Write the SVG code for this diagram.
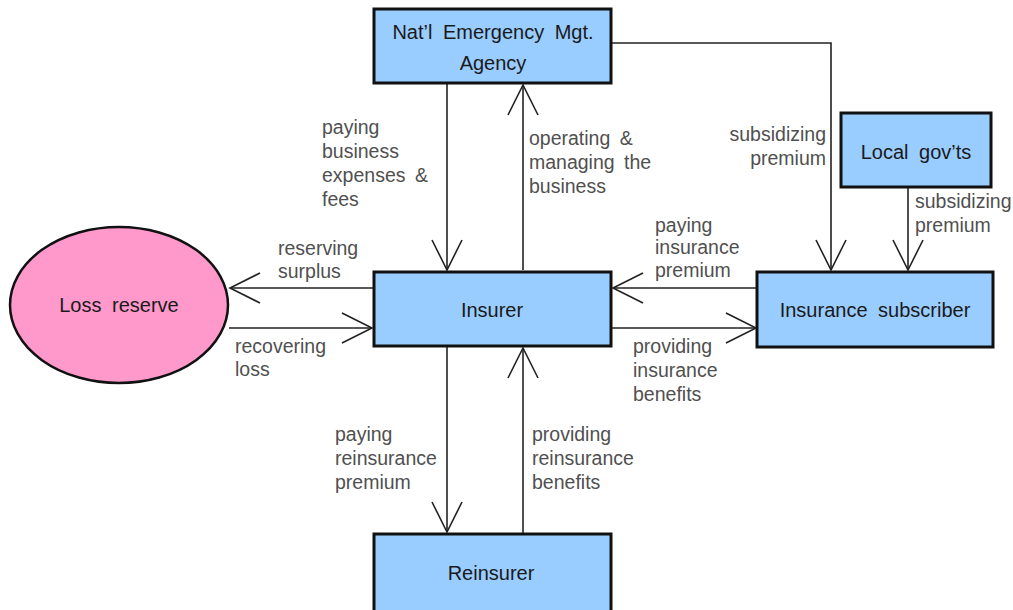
<svg xmlns="http://www.w3.org/2000/svg" width="1013" height="610" viewBox="0 0 1013 610">
<defs>
<style>
.box{fill:#99ccff;stroke:#111;stroke-width:3}
.ell{fill:#ff99cc;stroke:#111;stroke-width:2.5}
.nt{font-family:"Liberation Sans",Arial,sans-serif;font-size:20px;fill:#1a1a1a;text-anchor:middle;word-spacing:5px}
.lb{font-family:"Liberation Sans",Arial,sans-serif;font-size:19.5px;fill:#505050;word-spacing:4px}
.ln{fill:none;stroke:#222;stroke-width:1.6;marker-end:url(#ah)}
</style>
<marker id="ah" markerUnits="userSpaceOnUse" markerWidth="36" markerHeight="36" refX="32" refY="17" orient="auto" viewBox="0 0 36 36">
<path d="M2,2 L32,17 L2,32" fill="none" stroke="#222" stroke-width="1.6"/>
</marker>
</defs>
<rect width="1013" height="610" fill="#fff"/>
<g id="connectors">
<line class="ln" x1="447" y1="84" x2="447" y2="270"/>
<line class="ln" x1="523" y1="270" x2="523" y2="85"/>
<polyline class="ln" points="612,43 831,43 831,270"/>
<line class="ln" x1="908" y1="188" x2="908" y2="270"/>
<line class="ln" x1="757" y1="288" x2="613" y2="288"/>
<line class="ln" x1="612" y1="328" x2="756" y2="328"/>
<line class="ln" x1="373" y1="288" x2="230" y2="288"/>
<line class="ln" x1="229" y1="328" x2="372" y2="328"/>
<line class="ln" x1="447" y1="347" x2="447" y2="532"/>
<line class="ln" x1="523" y1="533" x2="523" y2="348"/>
</g>
<g id="labels">
<text class="lb"><tspan x="322" y="134">paying</tspan><tspan x="322" y="158">business</tspan><tspan x="322" y="182">expenses &amp;</tspan><tspan x="322" y="206">fees</tspan></text>
<text class="lb"><tspan x="529" y="145">operating &amp;</tspan><tspan x="529" y="169">managing the</tspan><tspan x="529" y="193">business</tspan></text>
<text class="lb" text-anchor="end"><tspan x="826" y="141">subsidizing</tspan><tspan x="826" y="165">premium</tspan></text>
<text class="lb"><tspan x="915" y="208">subsidizing</tspan><tspan x="915" y="232">premium</tspan></text>
<text class="lb"><tspan x="655" y="232">paying</tspan><tspan x="655" y="254">insurance</tspan><tspan x="655" y="277">premium</tspan></text>
<text class="lb"><tspan x="278" y="255">reserving</tspan><tspan x="278" y="278">surplus</tspan></text>
<text class="lb"><tspan x="235" y="353">recovering</tspan><tspan x="235" y="376">loss</tspan></text>
<text class="lb"><tspan x="633" y="353">providing</tspan><tspan x="633" y="377">insurance</tspan><tspan x="633" y="401">benefits</tspan></text>
<text class="lb"><tspan x="335" y="441">paying</tspan><tspan x="335" y="465">reinsurance</tspan><tspan x="335" y="489">premium</tspan></text>
<text class="lb"><tspan x="532" y="441">providing</tspan><tspan x="532" y="465">reinsurance</tspan><tspan x="532" y="489">benefits</tspan></text>
</g>
<g id="nema">
<rect class="box" x="374" y="9" width="237" height="74"/>
<text class="nt" x="493" y="39">Nat’l Emergency Mgt.</text>
<text class="nt" x="493" y="70">Agency</text>
</g>
<g id="localgov">
<rect class="box" x="841" y="113" width="150" height="74"/>
<text class="nt" x="916" y="159">Local gov’ts</text>
</g>
<g id="subscriber">
<rect class="box" x="757" y="272" width="236" height="75"/>
<text class="nt" x="875" y="317">Insurance subscriber</text>
</g>
<g id="insurer">
<rect class="box" x="374" y="272" width="237" height="74"/>
<text class="nt" x="492" y="317">Insurer</text>
</g>
<g id="reinsurer">
<rect class="box" x="374" y="534" width="237" height="78"/>
<text class="nt" x="491" y="580">Reinsurer</text>
</g>
<g id="lossreserve">
<ellipse class="ell" cx="119" cy="305" rx="109" ry="78"/>
<text class="nt" x="119" y="312">Loss reserve</text>
</g>
</svg>
